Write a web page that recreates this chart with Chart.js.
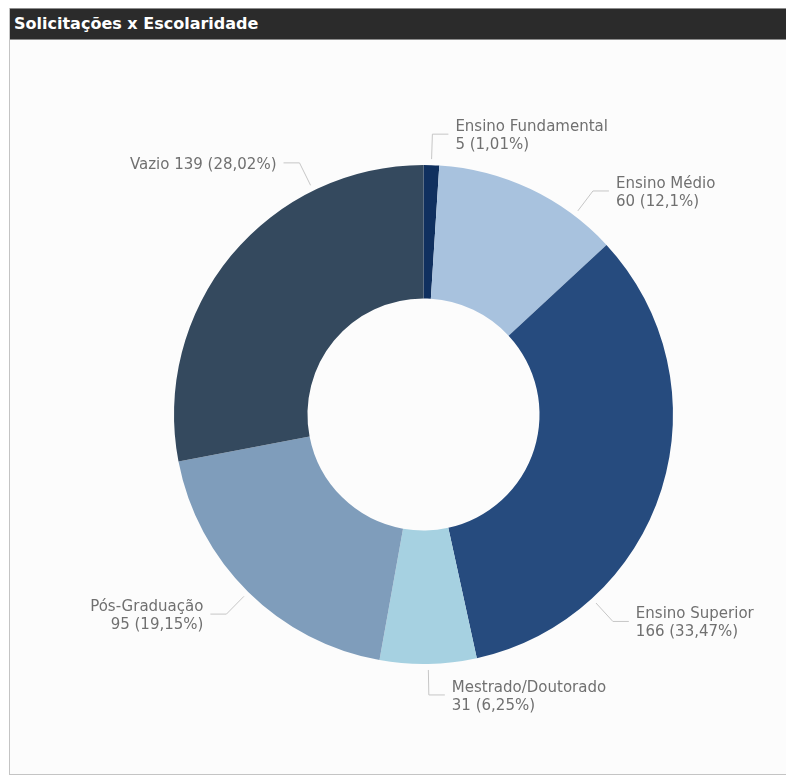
<!DOCTYPE html>
<html>
<head>
<meta charset="utf-8">
<script src="https://cdn.jsdelivr.net/npm/chart.js@4.4.1/dist/chart.umd.min.js"></script>
<style>
    html, body { margin: 0; padding: 0; background: #fff; }
    #painel {
        position: absolute; left: 9px; top: 8px; width: 777px; height: 767px;
        border-left: 1px solid #c4c4c4; border-bottom: 1px solid #c4c4c4;
        background: #fcfcfc; box-sizing: border-box;
    }
    #titulo {
        height: 32px; background: #2b2b2b; color: #fff;
        border-top: 1px solid #8c8c8c; border-bottom: 1px solid #8c8c8c;
        font: bold 16px "DejaVu Sans", sans-serif;
        line-height: 29px; padding-left: 4px; box-sizing: border-box;
    }
    #grafico { position: absolute; left: 0; top: 32px; }
</style>
</head>
<body>
<div id="painel">
    <div id="titulo">Solicitações x Escolaridade</div>
    <canvas id="grafico" width="776" height="734"></canvas>
</div>
<script>
// Solicitações por escolaridade
const categorias = ['Ensino Fundamental', 'Ensino Médio', 'Ensino Superior', 'Mestrado/Doutorado', 'Pós-Graduação', 'Vazio'];
const valores = [5, 60, 166, 31, 95, 139];
const cores = ['#10305f', '#a8c2de', '#264b7e', '#a6d1e1', '#7f9dbb', '#34495e'];
// onde a linha do rótulo sai da fatia (fração do arco)
const posRotulo = [0.5, 0.77, 0.75, 0.5, 0.5, 0.74];

const total = valores.reduce((a, b) => a + b, 0);

function percentual(v) {
    return (Math.round(v / total * 10000) / 100).toString().replace('.', ',');
}

// rótulos com linha de chamada para fora do anel
const rotulos = {
    id: 'rotulos',
    afterDatasetsDraw(chart) {
        const ctx = chart.ctx;
        const meta = chart.getDatasetMeta(0);
        ctx.save();
        ctx.font = '15px "DejaVu Sans", sans-serif';
        ctx.textBaseline = 'middle';
        meta.data.forEach((arc, i) => {
            const p = arc.getProps(['x', 'y', 'startAngle', 'endAngle', 'outerRadius'], true);
            const a = p.startAngle + (p.endAngle - p.startAngle) * posRotulo[i];
            const cos = Math.cos(a), sin = Math.sin(a);
            const x0 = p.x + cos * (p.outerRadius + 6), y0 = p.y + sin * (p.outerRadius + 6);
            const x1 = p.x + cos * (p.outerRadius + 31), y1 = p.y + sin * (p.outerRadius + 31);
            const dir = cos >= 0 ? 1 : -1;
            const x2 = x1 + dir * 16;

            ctx.strokeStyle = '#c6c6c6';
            ctx.lineWidth = 1;
            ctx.beginPath();
            ctx.moveTo(x0, y0);
            ctx.lineTo(x1, y1);
            ctx.lineTo(x2, y1);
            ctx.stroke();

            const valor = valores[i] + ' (' + percentual(valores[i]) + '%)';
            const inteiro = categorias[i] + ' ' + valor;
            const linhas = ctx.measureText(inteiro).width > 165 ? [categorias[i], valor] : [inteiro];
            ctx.fillStyle = '#707070';
            ctx.textAlign = dir > 0 ? 'left' : 'right';
            const tx = x2 + dir * 7;
            const alt = 18;
            linhas.forEach((t, k) => {
                ctx.fillText(t, tx, y1 + 2 + (k - (linhas.length - 1) / 2) * alt);
            });
        });
        ctx.restore();
    }
};

new Chart(document.getElementById('grafico'), {
    type: 'doughnut',
    data: {
        labels: categorias,
        datasets: [{
            data: valores,
            backgroundColor: cores,
            borderWidth: 0,
            hoverOffset: 0
        }]
    },
    options: {
        responsive: false,
        animation: false,
        cutout: '46.5%',
        layout: { padding: { left: 164, right: 113, top: 125, bottom: 110 } },
        plugins: {
            legend: { display: false },
            tooltip: { enabled: false }
        }
    },
    plugins: [rotulos]
});
</script>
</body>
</html>
